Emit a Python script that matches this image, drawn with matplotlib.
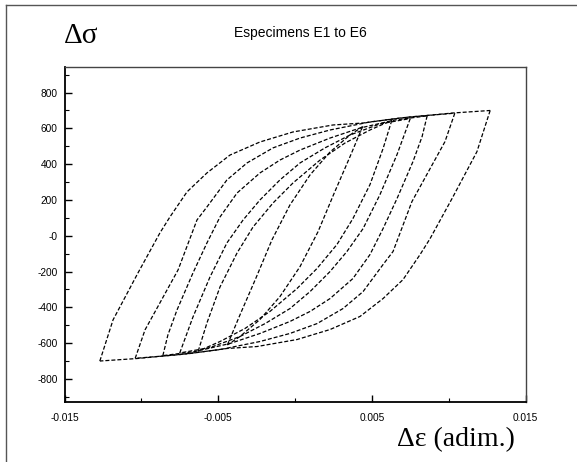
import matplotlib
matplotlib.use("Agg")
import matplotlib.pyplot as plt
from matplotlib.ticker import FixedLocator
from matplotlib.lines import Line2D

# Ascending branches (strain, stress), one per specimen
e1_up = [-0.0127, -0.01184, -0.01022, -0.00879, -0.00814, -0.00703, -0.00573, -0.00423, -0.00228, -0.00013, 0.00247, 0.00443, 0.00683, 0.01028, 0.0127]
s1_up = [-700, -470, -208, 16, 105, 245, 351, 451, 524, 580, 619, 630, 658, 686, 700]

e2_up = [-0.0104, -0.00976, -0.00879, -0.00761, -0.00638, -0.00573, -0.00443, -0.00312, -0.00143, 0.00033, 0.00228, 0.00488, 0.00748, 0.0104]
s2_up = [-685, -526, -375, -191, 88, 161, 312, 407, 491, 546, 591, 636, 664, 685]

e3_up = [-0.0086, -0.00827, -0.00768, -0.00664, -0.00573, -0.00488, -0.00377, -0.00228, -0.00098, 0.00033, 0.00228, 0.00423, 0.00651, 0.0086]
s3_up = [-670, -554, -415, -208, -40, 105, 239, 351, 423, 479, 546, 602, 647, 670]

e4_up = [-0.0075, -0.00664, -0.00553, -0.00443, -0.00338, -0.00228, -0.00098, 0.00033, 0.00195, 0.00358, 0.00553, 0.0075]
s4_up = [-655, -454, -230, -40, 88, 200, 312, 407, 491, 563, 625, 655]

e5_up = [-0.0063, -0.00573, -0.00488, -0.00377, -0.00273, -0.00143, -0.00013, 0.00163, 0.00325, 0.00488, 0.0063]
s5_up = [-645, -487, -286, -96, 49, 183, 295, 423, 518, 591, 645]

e6_up = [-0.0044, -0.00358, -0.00254, -0.00150, -0.00033, 0.00098, 0.00228, 0.00358, 0.0044]
s6_up = [-610, -442, -236, -23, 172, 340, 468, 563, 610]

# Descending branches (read as the point-symmetric counterparts)
e1_dn = [0.0127, 0.01184, 0.01022, 0.00879, 0.00814, 0.00703, 0.00573, 0.00423, 0.00228, 0.00013, -0.00247, -0.00443, -0.00683, -0.01028, -0.0127]
s1_dn = [700, 470, 208, -16, -105, -245, -351, -451, -524, -580, -619, -630, -658, -686, -700]

e2_dn = [0.0104, 0.00976, 0.00879, 0.00761, 0.00638, 0.00573, 0.00443, 0.00312, 0.00143, -0.00033, -0.00228, -0.00488, -0.00748, -0.0104]
s2_dn = [685, 526, 375, 191, -88, -161, -312, -407, -491, -546, -591, -636, -664, -685]

e3_dn = [0.0086, 0.00827, 0.00768, 0.00664, 0.00573, 0.00488, 0.00377, 0.00228, 0.00098, -0.00033, -0.00228, -0.00423, -0.00651, -0.0086]
s3_dn = [670, 554, 415, 208, 40, -105, -239, -351, -423, -479, -546, -602, -647, -670]

e4_dn = [0.0075, 0.00664, 0.00553, 0.00443, 0.00338, 0.00228, 0.00098, -0.00033, -0.00195, -0.00358, -0.00553, -0.0075]
s4_dn = [655, 454, 230, 40, -88, -200, -312, -407, -491, -563, -625, -655]

e5_dn = [0.0063, 0.00573, 0.00488, 0.00377, 0.00273, 0.00143, 0.00013, -0.00163, -0.00325, -0.00488, -0.0063]
s5_dn = [645, 487, 286, 96, -49, -183, -295, -423, -518, -591, -645]

e6_dn = [0.0044, 0.00358, 0.00254, 0.00150, 0.00033, -0.00098, -0.00228, -0.00358, -0.0044]
s6_dn = [610, 442, 236, 23, -172, -340, -468, -563, -610]

x_ticks = [-0.015, -0.005, 0.005, 0.015]
x_labels = ["-0.015", "-0.005", "0.005", "0.015"]
y_ticks = [-800, -600, -400, -200, 0, 200, 400, 600, 800]
y_labels = ["-800", "-600", "-400", "-200", "-0", "200", "400", "600", "800"]

fig = plt.figure(figsize=(5.77, 4.62), dpi=100)
ax = fig.add_axes([64.5 / 577, 1 - 402 / 462, (525.5 - 64.5) / 577, (402 - 67) / 462])

dash = (0, (3.2, 1.6))
branches = [(e1_up, s1_up), (e1_dn, s1_dn), (e2_up, s2_up), (e2_dn, s2_dn),
            (e3_up, s3_up), (e3_dn, s3_dn), (e4_up, s4_up), (e4_dn, s4_dn),
            (e5_up, s5_up), (e5_dn, s5_dn), (e6_up, s6_up), (e6_dn, s6_dn)]
for ex, sy in branches:
    ax.plot(ex, sy, color="black", linestyle=dash, linewidth=0.9)

ax.set_xlim(-0.015, 0.015)
ax.set_ylim(-929, 943)
ax.xaxis.set_major_locator(FixedLocator(x_ticks))
ax.xaxis.set_minor_locator(FixedLocator([-0.01, 0.0, 0.01]))
ax.yaxis.set_major_locator(FixedLocator(y_ticks))
ax.yaxis.set_minor_locator(FixedLocator(list(range(-900, 901, 100))))
ax.set_xticklabels(x_labels)
ax.set_yticklabels(y_labels)
ax.tick_params(which="both", direction="in", top=False, right=False,
               labelsize=7.3, labelfontfamily="Liberation Sans", color="black")
ax.tick_params(which="major", length=5, width=1.0)
ax.tick_params(axis="y", which="major", pad=5)
ax.tick_params(axis="x", which="major", pad=8)
ax.tick_params(which="minor", length=3, width=0.8)
for side in ["left", "bottom"]:
    ax.spines[side].set_linewidth(1.3)
    ax.spines[side].set_color("black")
for side in ["top", "right"]:
    ax.spines[side].set_linewidth(1.0)
    ax.spines[side].set_color("#444444")

fig.text(81 / 577, 1 - 36 / 462, "\u0394\u03c3", family="Liberation Serif", fontsize=21,
         ha="center", va="center")
fig.text(300 / 577, 1 - 33 / 462, "Especimens E1 to E6", family="Liberation Sans", fontsize=10,
         ha="center", va="center")
fig.text(456 / 577, 1 - 440 / 462, "\u0394\u03b5 (adim.)", family="Liberation Serif", fontsize=20,
         ha="center", va="center")

# outer frame (left and top edges visible)
fig.add_artist(Line2D([6 / 577, 6 / 577], [0, 1 - 5 / 462], transform=fig.transFigure,
                      color="#555555", linewidth=1.0))
fig.add_artist(Line2D([6 / 577, 1], [1 - 5 / 462, 1 - 5 / 462], transform=fig.transFigure,
                      color="#555555", linewidth=1.0))

fig.savefig("out.png", dpi=100)
